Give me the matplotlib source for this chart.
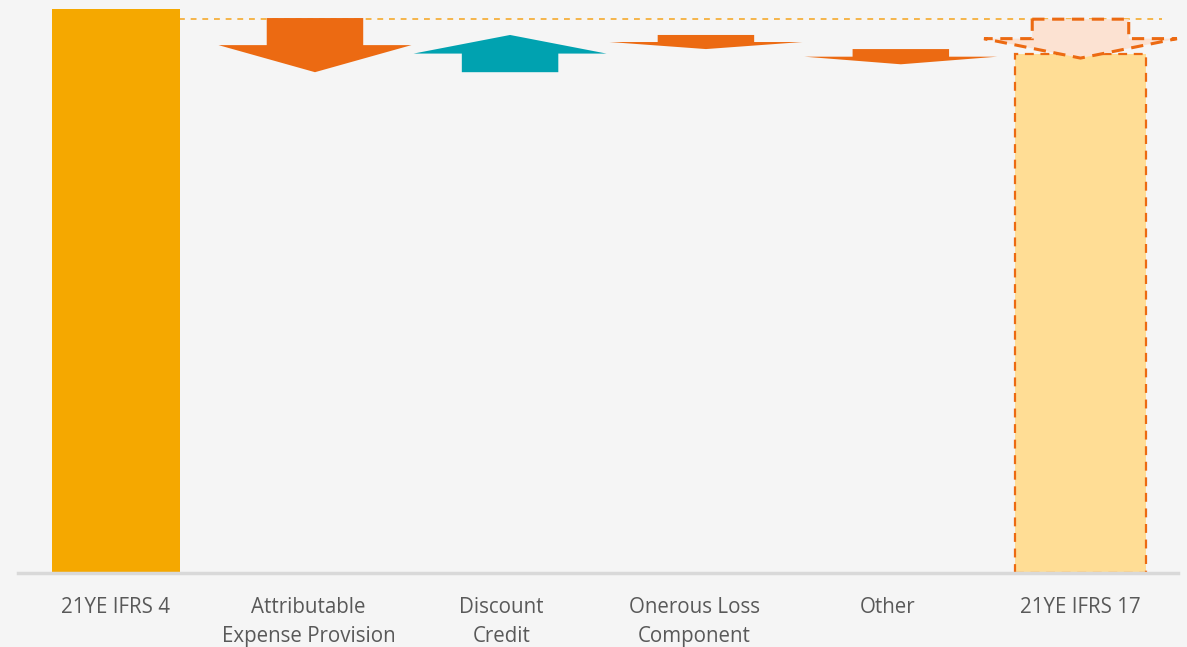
import matplotlib
matplotlib.use("Agg")
import matplotlib.pyplot as plt
from matplotlib.patches import Polygon

# DATA ---------------------------------------------------------------
categories = ["21YE IFRS 4", "Attributable\nExpense Provision", "Discount\nCredit",
              "Onerous Loss\nComponent", "Other", "21YE IFRS 17"]
start_total = 100.0       # 21YE IFRS 4 bar
end_total = 92.0          # 21YE IFRS 17 bar
ref_level = 98.2          # dashed reference line
# movement arrows: (start, end) per middle category
move_start = [98.4, 88.8, 95.4, 92.9]
move_end = [88.8, 95.4, 92.9, 90.2]
# dashed arrow above the final bar
final_arrow = (98.2, 91.3)

# STYLE --------------------------------------------------------------
bg = "#f5f5f5"
c_total = "#f5a800"
c_down = "#ec6a12"
c_up = "#00a2b0"
c_final_fill = "#ffdd95"
c_final_arrow = "#fce2d2"
c_ref = "#f6b54a"
c_text = "#595959"
arrow_shift = [0.033, 0.044, 0.059, 0.069]


def arrow_pts(x, y0, y1, shaft=0.25, head=0.5):
    ym = (y0 + y1) / 2
    return [(x - shaft, y0), (x + shaft, y0), (x + shaft, ym), (x + head, ym),
            (x, y1), (x - head, ym), (x - shaft, ym)]


fig = plt.figure(figsize=(11.87, 6.47), dpi=100, facecolor=bg)
ax = fig.add_axes([0.01516, 0.1144, 0.9772, 0.8856])
ax.set_facecolor(bg)

# totals
ax.bar(0, start_total, width=0.663, color=c_total, zorder=2)
ax.bar(5, end_total, width=0.68, color=c_final_fill, edgecolor=c_down,
       linestyle=(0, (4, 3)), linewidth=1.6, zorder=2)

# reference line
ax.plot([0.33, 5.42], [ref_level, ref_level], color=c_ref, lw=1.4,
        linestyle=(0, (3, 3)), zorder=1)

# movements
for i, (s, e) in enumerate(zip(move_start, move_end)):
    col = c_up if e > s else c_down
    ax.add_patch(Polygon(arrow_pts(i + 1 + arrow_shift[i], s, e), closed=True,
                         facecolor=col, edgecolor="none", zorder=3))

# dashed final arrow
ax.add_patch(Polygon(arrow_pts(5, final_arrow[0], final_arrow[1]), closed=True,
                     facecolor=c_final_arrow, edgecolor=c_down, lw=2.2,
                     linestyle=(0, (4, 2.5)), zorder=4))

ax.set_xlim(-0.506, 5.505)
ax.set_ylim(0, 101.6)
ax.set_yticks([])
ax.set_xticks(range(len(categories)))
ax.set_xticklabels(categories, fontsize=14.8, color=c_text, family="Open Sans",
                   linespacing=1.5, va="top")
ax.tick_params(axis="x", length=0, pad=17)
for side in ["top", "right", "left"]:
    ax.spines[side].set_visible(False)
ax.spines["bottom"].set_color("#d9d9d9")
ax.spines["bottom"].set_linewidth(2.5)

fig.savefig("out.png", dpi=100, facecolor=bg)
